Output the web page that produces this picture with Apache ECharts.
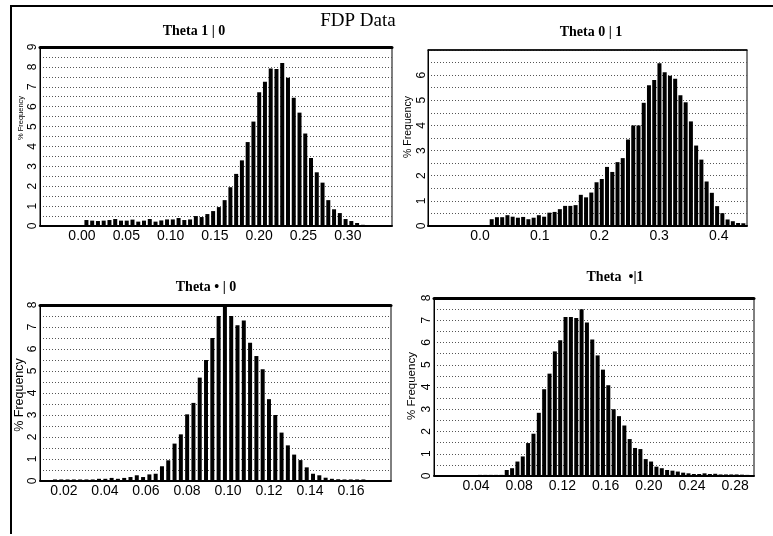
<!DOCTYPE html>
<html><head><meta charset="utf-8">
<script src="https://cdn.jsdelivr.net/npm/echarts@6/dist/echarts.min.js"></script>
<style>html,body{margin:0;padding:0;background:#fff}#c{width:773px;height:536px}</style>
</head><body><div id="c"></div><script>
// ---------- data ----------
const mainTitle = 'FDP Data';
const panelTitles = ['Theta 1 | 0', 'Theta 0 | 1', 'Theta \u2022 | 0', 'Theta  \u2022|1'];
const yName = '% Frequency';

// Panel 1: Theta 1|0
const p1BinStart = 0.005, p1BinWidth = 0.0065;
const p1Freq = [0.3,0.27,0.25,0.27,0.3,0.35,0.27,0.27,0.32,0.22,0.27,0.35,0.22,0.28,0.33,0.33,0.4,0.3,0.33,0.5,0.45,0.6,0.75,0.95,1.3,1.95,2.62,3.3,4.22,5.25,6.72,7.25,7.92,7.9,8.2,7.45,6.45,5.7,4.65,3.42,2.7,2.18,1.3,0.84,0.65,0.35,0.25,0.15,0.06];
const p1XTicks = [0, 0.05, 0.10, 0.15, 0.20, 0.25, 0.30];
const p1YTicks = [0,1,2,3,4,5,6,7,8,9];

// Panel 2: Theta 0|1
const p2BinStart = 0.0196, p2BinWidth = 0.00878;
const p2Freq = [0.27,0.35,0.35,0.43,0.37,0.33,0.36,0.27,0.33,0.43,0.37,0.53,0.56,0.67,0.8,0.8,0.83,1.24,1.14,1.33,1.74,1.87,2.35,2.15,2.54,2.7,3.44,4.0,4.0,4.9,5.6,5.81,6.47,6.12,5.98,5.86,5.2,4.92,4.16,3.2,2.64,1.77,1.32,0.79,0.51,0.26,0.19,0.12,0.11];
const p2XTicks = [0, 0.1, 0.2, 0.3, 0.4];
const p2YTicks = [0,1,2,3,4,5,6];

// Panel 3: Theta .|0
const p3BinStart = 0.0156, p3BinWidth = 0.00307;
const p3Freq = [0.07,0.07,0.07,0.07,0.07,0.07,0.07,0.1,0.1,0.14,0.1,0.14,0.18,0.26,0.18,0.3,0.33,0.67,0.94,1.7,2.12,3.03,3.55,4.7,5.5,6.5,7.5,8.0,7.5,7.08,7.3,6.28,5.68,5.08,3.72,3.0,2.2,1.62,1.2,0.95,0.62,0.33,0.26,0.15,0.1,0.08,0.07,0.07,0.07,0.07];
const p3XTicks = [0.02, 0.04, 0.06, 0.08, 0.10, 0.12, 0.14, 0.16];
const p3YTicks = [0,1,2,3,4,5,6,7,8];

// Panel 4: Theta .|1
const p4BinStart = 0.0437, p4BinWidth = 0.00495;
const p4Freq = [0.05,0.05,0.05,0.05,0.05,0.27,0.35,0.65,0.88,1.48,1.9,2.84,3.9,4.6,5.6,6.1,7.15,7.15,7.1,7.5,6.9,6.14,5.42,4.78,4.08,3.0,2.69,2.27,1.66,1.26,1.21,0.76,0.65,0.42,0.35,0.27,0.24,0.2,0.15,0.12,0.09,0.09,0.12,0.09,0.1,0.07,0.07,0.07,0.07,0.06,0.05];
const p4XTicks = [0.04, 0.08, 0.12, 0.16, 0.20, 0.24, 0.28];
const p4YTicks = [0,1,2,3,4,5,6,7,8];

// ---------- layout (positions & styles) ----------
const panels = [
  {freq:p1Freq, start:p1BinStart, step:p1BinWidth, xt:p1XTicks, yt:p1YTicks, dec:2,
   grid:{left:40, top:47, width:352, height:179}, xmin:-0.0474, xmax:0.3499, ymax:9, topW:3,
   title:[194,31], name:[20.5,118,7.5], labM:1},
  {freq:p2Freq, start:p2BinStart, step:p2BinWidth, xt:p2XTicks, yt:p2YTicks, dec:1,
   grid:{left:428, top:50, width:319, height:176}, xmin:-0.0871, xmax:0.4472, ymax:7, topW:1.5,
   title:[591,32], name:[408,127,10.5], labM:0},
  {freq:p3Freq, start:p3BinStart, step:p3BinWidth, xt:p3XTicks, yt:p3YTicks, dec:2,
   grid:{left:40, top:305, width:351, height:176}, xmin:0.0083, xmax:0.1795, ymax:8, topW:3,
   title:[206,287], name:[20,395,12.5], labM:1},
  {freq:p4Freq, start:p4BinStart, step:p4BinWidth, xt:p4XTicks, yt:p4YTicks, dec:2,
   grid:{left:434, top:298, width:320, height:178}, xmin:0.0011, xmax:0.2974, ymax:8, topW:3,
   title:[615,277], name:[412,386,11.5], labM:1}
];

const grids = [], xAxes = [], yAxes = [], series = [], graphics = [];
panels.forEach((p, i) => {
  grids.push(Object.assign({show:true, borderColor:'#000', borderWidth:1, containLabel:false}, p.grid));
  xAxes.push({gridIndex:i, type:'value', min:p.xmin, max:p.xmax, position:'bottom',
    axisLine:{show:true, onZero:false, lineStyle:{color:'#000', width:2}},
    axisTick:{show:false}, splitLine:{show:false},
    axisLabel:{customValues:p.xt, formatter:(v)=>Number(v).toFixed(p.dec), color:'#000',
      fontSize:14, fontFamily:'Liberation Sans, Arial, sans-serif', margin:3}});
  xAxes.push({gridIndex:i, type:'value', min:p.xmin, max:p.xmax, position:'top',
    axisLine:{show:true, onZero:false, lineStyle:{color:'#000', width:p.topW}},
    axisTick:{show:false}, splitLine:{show:false}, axisLabel:{show:false}});
  yAxes.push({gridIndex:i, type:'value', min:0, max:p.ymax, interval:0.5, position:'left',
    axisLine:{show:true, onZero:false, lineStyle:{color:'#000', width:1}},
    axisTick:{show:false},
    axisLabel:{customValues:p.yt, rotate:90, color:'#000', fontSize:12,
      fontFamily:'Liberation Sans, Arial, sans-serif', margin:p.labM},
    splitLine:{show:true, lineStyle:{type:[1,2], color:'#555', width:1}}});
  series.push({type:'bar', xAxisIndex:2*i, yAxisIndex:i, barWidth:4, silent:true,
    itemStyle:{color:'#000'},
    data:p.freq.map((v, k) => [p.start + k*p.step, v])});
  graphics.push({type:'text', x:p.title[0], y:p.title[1], silent:true,
    style:{text:panelTitles[i], align:'center', verticalAlign:'middle', fill:'#000',
      font:'bold 14px "Liberation Serif", "Times New Roman", serif'}});
  graphics.push({type:'text', x:p.name[0], y:p.name[1], rotation:Math.PI/2, silent:true,
    style:{text:yName, align:'center', verticalAlign:'middle', fill:'#000',
      font:p.name[2] + 'px "Liberation Sans", Arial, sans-serif'}});
});
graphics.push({type:'text', x:358, y:21, silent:true,
  style:{text:mainTitle, align:'center', verticalAlign:'middle', fill:'#000',
    font:'19px "Liberation Serif", "Times New Roman", serif'}});
graphics.push({type:'polyline', silent:true, shape:{points:[[11,534],[11,6],[773,6]]},
  style:{stroke:'#000', lineWidth:2, fill:null}});

const chart = echarts.init(document.getElementById('c'), null, {renderer:'canvas'});
chart.setOption({animation:false, backgroundColor:'#fff', grid:grids, xAxis:xAxes, yAxis:yAxes,
  series:series, graphic:graphics});
</script></body></html>
